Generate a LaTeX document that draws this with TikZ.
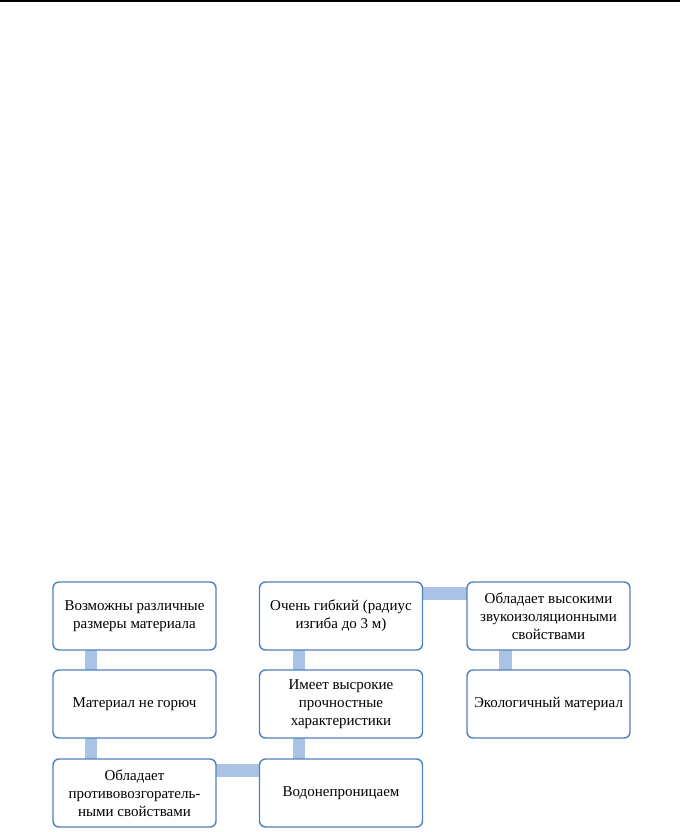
\documentclass[tikz,border=0pt]{standalone}
\usepackage{fontspec}
\setmainfont{Liberation Serif}
\usetikzlibrary{calc,backgrounds}
\definecolor{boxline}{RGB}{79,129,189}
\definecolor{connfill}{RGB}{170,194,228}
\tikzset{
  box/.style={draw=boxline, line width=1.4pt, fill=white, rounded corners=6pt,
    minimum width=163pt, minimum height=68pt, inner sep=2pt, align=center,
    font=\fontsize{15}{18}\selectfont},
  conn/.style={fill=connfill, draw=none}
}
\begin{document}
\begin{tikzpicture}[x=1pt,y=-1pt]
\useasboundingbox (0,0) rectangle (680,832);
\draw[line width=2pt] (0,1.5) -- (680,1.5);
% nodes
\node[box] (A) at (134.5,616) {Возможны различные\\размеры материала};
\node[box] (B) at (134.5,704) {Материал не горюч};
\node[box] (C) at (134.5,793) {Обладает\\противовозгоратель-\\ными свойствами};
\node[box] (D) at (341,616) {Очень гибкий (радиус\\изгиба до 3 м)};
\node[box] (E) at (341,704) {Имеет высрокие\\прочностные\\характеристики};
\node[box] (F) at (341,793) {Водонепроницаем};
\node[box] (G) at (548.5,616) {Обладает высокими\\звукоизоляционными\\свойствами};
\node[box] (H) at (548.5,704) {Экологичный материал};
% connectors
\begin{scope}[on background layer]
\fill[white] (0,0) rectangle (680,832);
\fill[conn] ($(A.south west)+(33,-1)$) rectangle ($(B.north west)+(45,1)$);
\fill[conn] ($(B.south west)+(33,-1)$) rectangle ($(C.north west)+(45,1)$);
\fill[conn] ($(D.south west)+(34,-1)$) rectangle ($(E.north west)+(46,1)$);
\fill[conn] ($(E.south west)+(34,-1)$) rectangle ($(F.north west)+(46,1)$);
\fill[conn] ($(G.south west)+(33,-1)$) rectangle ($(H.north west)+(46,1)$);
\fill[conn] ($(C.north east)+(-1,6)$) rectangle ($(F.north west)+(1,19)$);
\fill[conn] ($(D.north east)+(-1,6)$) rectangle ($(G.north west)+(1,19)$);
\end{scope}
\end{tikzpicture}
\end{document}
